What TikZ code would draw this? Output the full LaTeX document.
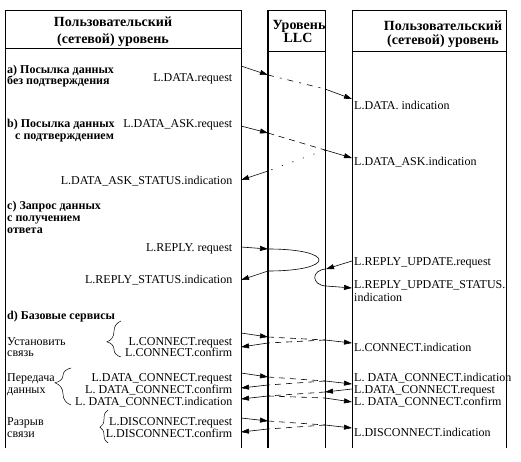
\documentclass[tikz,border=0pt]{standalone}
\usepackage{fontspec}
\setmainfont{Liberation Serif}
\usetikzlibrary{arrows.meta,decorations.pathreplacing}
\tikzset{
  lbl/.style={font=\fontsize{12}{12}\selectfont, inner sep=0pt},
  lblw/.style={lbl, anchor=base east},
  lble/.style={lbl, anchor=base west},
  hdr/.style={lbl, font=\fontsize{14}{14}\selectfont\bfseries, anchor=base},
  sect/.style={lbl, font=\fontsize{12}{12}\selectfont\bfseries, anchor=base west},
  boxline/.style={line width=0.8pt},
  llcline/.style={line width=2pt},
  msg/.style={-{Triangle[length=8pt,width=5pt]}, line width=0.6pt},
  relay/.style={line width=0.6pt, dash pattern=on 6pt off 5pt},
  relaydot/.style={line width=0.6pt, dash pattern=on 1.2pt off 10pt},
  grp/.style={decorate, line width=0.5pt},
}
\begin{document}
\begin{tikzpicture}[x=1pt, y=-1pt]
  \useasboundingbox (0,0) rectangle (521,462);
  \draw[boxline] (5,448) -- (5,10) -- (241,10) -- (241,448);
  \draw[boxline] (5,48) -- (241,48);
  \draw[boxline] (268,10) -- (325,10) -- (325,448);
  \draw[boxline] (268,51) -- (325,51);
  \draw[llcline] (268,10) -- (268,448);
  \draw[boxline] (352,448) -- (352,10) -- (506,10) -- (506,448);
  \draw[boxline] (352,51) -- (506,51);

  \node[hdr] (hL1) at (113,27) {Пользовательский};
  \node[hdr] (hL2) at (113,44) {(сетевой) уровень};
  \node[hdr] (hM1) at (299,30) {Уровень};
  \node[hdr] (hM2) at (298,43) {LLC};
  \node[hdr] (hR1) at (443,31) {Пользовательский};
  \node[hdr] (hR2) at (443,45) {(сетевой) уровень};

  \node[sect] (sa1) at (7,74) {a) Посылка данных};
  \node[sect] (sa2) at (7,84.5) {без подтверждения};
  \node[lblw] (qa) at (232.5,82) {L.DATA.request};
  \node[lble] (ia) at (354,110) {L.DATA. indication};

  \node[sect] (sb1) at (7,128) {b) Посылка данных};
  \node[sect] (sb2) at (15,140) {с подтверждением};
  \node[lblw] (qb) at (232.5,128) {L.DATA\_ASK.request};
  \node[lble] (ib) at (354,166) {L.DATA\_ASK.indication};
  \node[lblw] (sb) at (232.5,185) {L.DATA\_ASK\_STATUS.indication};

  \node[sect] (sc1) at (7,210) {c) Запрос данных};
  \node[sect] (sc2) at (7,221.5) {с получением};
  \node[sect] (sc3) at (7,233) {ответа};
  \node[lblw] (qc) at (232.5,251) {L.REPLY. request};
  \node[lblw] (sc) at (232.5,283) {L.REPLY\_STATUS.indication};
  \node[lble] (uc) at (354,265) {L.REPLY\_UPDATE.request};
  \node[lble] (tc1) at (354,288) {L.REPLY\_UPDATE\_STATUS.};
  \node[lble] (tc2) at (354,301) {indication};

  \node[sect] (sd) at (7,319) {d) Базовые сервисы};
  \node[lble] (cn1) at (7,345) {Установить};
  \node[lble] (cn2) at (7,356) {связь};
  \node[lblw] (qcn) at (232.5,345) {L.CONNECT.request};
  \node[lblw] (fcn) at (232.5,356) {L.CONNECT.confirm};
  \node[lble] (icn) at (354,351) {L.CONNECT.indication};

  \node[lble] (dt1) at (7,381) {Передача};
  \node[lble] (dt2) at (7,393) {данных};
  \node[lblw] (qdt) at (232.5,381) {L.DATA\_CONNECT.request};
  \node[lblw] (fdt) at (232.5,393) {L. DATA\_CONNECT.confirm};
  \node[lblw] (idt) at (232.5,405) {L. DATA\_CONNECT.indication};
  \node[lble] (idr) at (354,381) {L. DATA\_CONNECT.indication};
  \node[lble] (qdr) at (354,393) {L.DATA\_CONNECT.request};
  \node[lble] (fdr) at (354,405) {L. DATA\_CONNECT.confirm};

  \node[lble] (ds1) at (7,425) {Разрыв};
  \node[lble] (ds2) at (7,437) {связи};
  \node[lblw] (qds) at (232.5,425) {L.DISCONNECT.request};
  \node[lblw] (fds) at (232.5,437) {L.DISCONNECT.confirm};
  \node[lble] (ids) at (354,436) {L.DISCONNECT.indication};

  \draw[grp, decoration={brace, amplitude=14pt, aspect=0.42}] (121,357) -- (121,321);
  \draw[grp, decoration={brace, amplitude=16pt, aspect=0.6}] (71,405) -- (71,368);
  \draw[grp, decoration={brace, amplitude=8pt, aspect=0.48}] (108,443) -- (108,410);

  \coordinate (a1) at (241,66);
  \coordinate (a2) at (268,75);
  \coordinate (a3) at (325,89);
  \coordinate (a4) at (352,99);
  \draw[msg] (a1) -- (a2);
  \draw[relay, dash pattern=on 6pt off 6pt on 2pt off 6pt] (a2) -- (a3);
  \draw[msg] (a3) -- (a4);

  \coordinate (b1) at (241,126);
  \coordinate (b2) at (268,133);
  \coordinate (b3) at (325,150);
  \coordinate (b4) at (352,158);
  \coordinate (b5) at (268,171);
  \coordinate (b6) at (241,180);
  \draw[msg] (b1) -- (b2);
  \draw[relay] (b2) -- (b3);
  \draw[msg] (b3) -- (b4);
  \draw[relaydot] (b3) -- (b5);
  \draw[msg] (b5) -- (b6);

  \coordinate (r1) at (241,247);
  \coordinate (r2) at (268,249);
  \coordinate (r3) at (268,271);
  \coordinate (r4) at (241,280);
  \draw[msg] (r1) -- (r2);
  \draw[line width=0.6pt] (r2) .. controls (336,249) and (336,271) .. (r3);
  \draw[msg] (r3) -- (r4);
  \coordinate (u1) at (352,261);
  \coordinate (u2) at (326,269);
  \coordinate (u3) at (326,286);
  \coordinate (u4) at (352,288);
  \draw[msg] (u1) -- (u2);
  \draw[line width=0.6pt] (u2) .. controls (311,270) and (311,285) .. (u3);
  \draw[msg] (u3) -- (u4);

  \coordinate (c1) at (241,333);
  \coordinate (c2) at (268,337);
  \coordinate (c3) at (325,340);
  \coordinate (c4) at (352,343);
  \coordinate (c5) at (268,343);
  \coordinate (c6) at (241,347);
  \coordinate (e1) at (241,373);
  \coordinate (e2) at (268,377);
  \coordinate (e3) at (325,381);
  \coordinate (e4) at (352,384);
  \coordinate (e5) at (268,385);
  \coordinate (e6) at (241,388);
  \coordinate (f1) at (352,389);
  \coordinate (f2) at (325,392);
  \coordinate (f3) at (268,396);
  \coordinate (f4) at (241,399);
  \coordinate (f5) at (325,398);
  \coordinate (f6) at (352,402);
  \coordinate (g1) at (241,418);
  \coordinate (g2) at (268,421);
  \coordinate (g3) at (325,425);
  \coordinate (g4) at (352,428);
  \coordinate (g5) at (268,429);
  \coordinate (g6) at (241,432);
  \foreach \n in {c,e,f,g} {
    \draw[msg] (\n1) -- (\n2);
    \draw[relay] (\n2) -- (\n3);
    \draw[msg] (\n3) -- (\n4);
    \draw[relay] (\n3) -- (\n5);
    \draw[msg] (\n5) -- (\n6);
  }
\end{tikzpicture}
\end{document}
